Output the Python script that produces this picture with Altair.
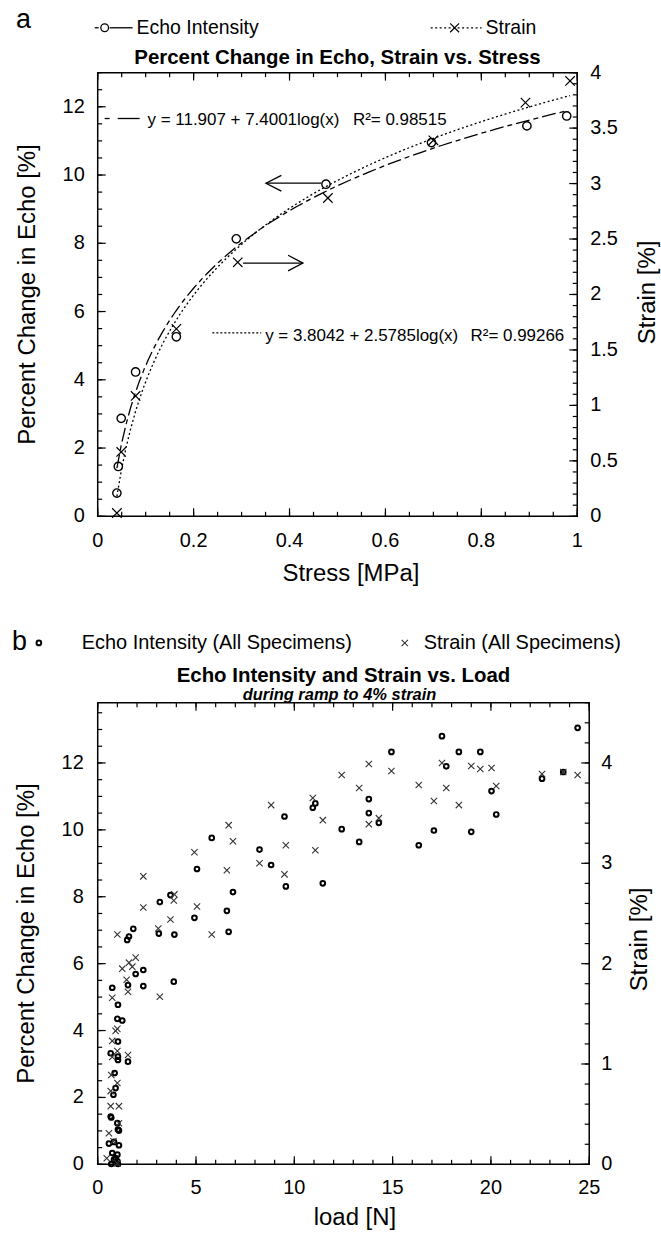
import altair as alt
import pandas as pd

FONT = "Liberation Sans"
PATH_X = "M-1,-1L1,1M-1,1L1,-1"

# ---------------- Panel a data (Stress [MPa]) ----------------
A_ECHO_STRESS = [0.040, 0.043, 0.049, 0.079, 0.164, 0.289, 0.476, 0.696, 0.895, 0.978]
A_ECHO = [0.68, 1.46, 2.87, 4.23, 5.26, 8.13, 9.73, 10.95, 11.44, 11.73]
A_STRAIN_STRESS = [0.040, 0.049, 0.079, 0.164, 0.292, 0.480, 0.700, 0.892, 0.985]
A_STRAIN = [0.03, 0.58, 1.085, 1.69, 2.29, 2.87, 3.39, 3.73, 3.925]

# arrows (annotation, left-axis units)
A_ARROW_X = [0.466, 0.351, 0.383, 0.351, 0.383, 0.303, 0.428, 0.397, 0.428, 0.397]
A_ARROW_Y = [9.76, 9.76, 9.99, 9.76, 9.53, 7.42, 7.42, 7.65, 7.42, 7.19]
A_ARROW_G = ["l1", "l1", "l2", "l2", "l2", "r1", "r1", "r2", "r2", "r2"]

A_X_LABELS = [0, 0.2, 0.4, 0.6, 0.8, 1.0]
A_X_MINOR = [round(i * 0.05, 2) for i in range(21)]
A_YL_LABELS = [0, 2, 4, 6, 8, 10, 12]
A_YL_MINOR = [i * 0.5 for i in range(27)]
A_YR_LABELS = [0, 0.5, 1, 1.5, 2, 2.5, 3, 3.5, 4]
A_YR_MINOR = [round(i * 0.1, 1) for i in range(41)]

# ---------------- Panel b data (load [N]) ----------------
B_ECHO_LOAD = [1.50, 1.59, 1.81, 3.16, 3.11, 3.70, 3.90, 4.92, 5.05, 5.80, 6.57, 6.66, 6.88,
               8.23, 8.82, 9.50, 9.57, 10.94, 11.07, 11.45, 12.41, 13.30,
               13.79, 13.79, 14.30, 14.94, 16.33, 17.10, 17.51, 17.73, 18.37, 19.00, 19.46,
               20.03, 20.27, 22.60, 23.68, 24.41,
               1.93, 2.32, 1.54, 2.32, 3.87, 0.74, 1.03, 1.00, 1.25, 1.03, 0.66, 1.03, 1.03,
               1.54, 0.86, 0.91, 0.80, 0.66, 0.69, 1.00, 1.03, 1.08, 0.57, 0.83, 1.08, 0.74,
               1.00, 0.83, 1.00, 0.69, 1.03, 0.91]
B_ECHO = [6.71, 6.81, 7.04, 7.84, 6.90, 8.05, 6.87, 7.37, 8.83, 9.76, 7.58, 6.95, 8.14,
          9.41, 8.95, 10.40, 8.31, 10.66, 10.79, 8.40, 10.02, 9.64,
          10.92, 10.50, 10.21, 12.33, 9.54, 9.98, 12.80, 11.90, 12.33, 9.94, 12.33,
          11.16, 10.46, 11.53, 11.73, 13.05,
          5.69, 5.81, 5.36, 5.33, 5.46, 5.28, 4.77, 4.35, 4.30, 3.67, 3.32, 3.22, 3.12,
          3.07, 2.73, 2.28, 2.08, 1.43, 1.40, 1.23, 1.04, 1.01, 0.62, 0.67, 0.57, 0.34,
          0.29, 0.14, 0.09, 0.01, 0.01, 0.19]
B_STRAIN_LOAD = [1.00, 2.32, 2.32, 3.08, 3.70, 3.90, 3.87, 4.92, 5.05, 5.80, 6.66, 6.88, 6.57,
                 8.23, 8.82, 9.57, 9.50, 10.94, 11.45, 11.07, 12.41, 13.30,
                 13.79, 13.79, 14.30, 14.94, 16.33, 17.10, 17.51, 17.73, 18.37, 19.00, 19.46,
                 20.03, 20.27, 22.60, 23.68, 24.41,
                 1.93, 1.59, 1.25, 1.76, 1.47, 1.54, 3.16, 0.74, 0.91, 1.00, 0.74, 1.00, 0.74,
                 1.54, 0.69, 1.00, 0.66, 0.66, 1.08, 1.08, 0.57, 0.80, 0.46, 1.00]
B_STRAIN = [2.29, 2.87, 2.56, 2.35, 2.44, 2.69, 2.63, 3.11, 2.57, 2.29, 3.38, 3.22, 2.93,
            3.00, 3.58, 3.18, 2.89, 3.65, 3.43, 3.13, 3.88, 3.75,
            3.99, 3.39, 3.45, 3.92, 3.78, 3.62, 4.00, 3.75, 3.58, 3.97, 3.94,
            3.95, 3.77, 3.89, 3.91, 3.88,
            2.06, 2.01, 1.95, 1.97, 1.84, 1.72, 1.67, 1.66, 1.33, 1.35, 1.23, 1.13, 1.07,
            1.09, 0.89, 0.81, 0.73, 0.58, 0.58, 0.41, 0.31, 0.23, 0.06, 0.01]

B_X_LABELS = [0, 5, 10, 15, 20, 25]
B_X_MINOR = list(range(26))
B_YL_LABELS = [0, 2, 4, 6, 8, 10, 12]
B_YL_MINOR = [i * 0.5 for i in range(28)]
B_YR_LABELS = [0, 1, 2, 3, 4]
B_YR_MINOR = [round(i * 0.2, 1) for i in range(24)]

# ---------------- text ----------------
A_TITLE = "Percent Change in Echo, Strain vs. Stress"
A_LEG1 = "Echo Intensity"
A_LEG2 = "Strain"
A_EQ1 = "y = 11.907 + 7.4001log(x)"
A_R1 = "R\u00b2= 0.98515"
A_EQ2 = "y = 3.8042 + 2.5785log(x)"
A_R2 = "R\u00b2= 0.99266"
A_XT = "Stress [MPa]"
YL_T = "Percent Change in Echo [%]"
YR_T = "Strain [%]"
B_TITLE = "Echo Intensity and Strain vs. Load"
B_SUB = "during ramp to 4% strain"
B_LEG1 = "Echo Intensity (All Specimens)"
B_LEG2 = "Strain (All Specimens)"
B_XT = "load [N]"

MAJ, MIN = 8, 4.5
LAB = 20


def text_layer(txt, x, y, size, align="left", baseline="middle", weight="normal",
               style="normal", angle=0):
    kw = dict(align=align, baseline=baseline, fontSize=size, font=FONT,
              fontWeight=weight, fontStyle=style, color="black")
    if angle:
        kw["angle"] = angle
    return alt.Chart(pd.DataFrame({"t": [txt]})).mark_text(**kw).encode(
        x=alt.value(x), y=alt.value(y), text="t:N")


def pix_rule(x1, x2, y1, y2, dash=None, width=1.3, opacity=1.0):
    kw = dict(color="black", strokeWidth=width, strokeOpacity=opacity)
    if dash:
        kw["strokeDash"] = dash
    return alt.Chart(pd.DataFrame({"d": [0]})).mark_rule(**kw).encode(
        x=alt.value(x1), x2=alt.value(x2), y=alt.value(y1), y2=alt.value(y2))


def pix_point(x, y, shape, size, sw, color="black"):
    return alt.Chart(pd.DataFrame({"d": [0]})).mark_point(
        shape=shape, size=size, strokeWidth=sw, color=color, filled=False, opacity=1
    ).encode(x=alt.value(x), y=alt.value(y))


def ticks(values, side, length, w, h, field, scale):
    df = pd.DataFrame({field: values})
    base = alt.Chart(df).mark_rule(color="black", strokeWidth=1.2)
    if side == "bottom":
        return base.encode(x=alt.X(f"{field}:Q", scale=scale, axis=None),
                           y=alt.value(h), y2=alt.value(h - length))
    if side == "top":
        return base.encode(x=alt.X(f"{field}:Q", scale=scale, axis=None),
                           y=alt.value(0), y2=alt.value(length))
    if side == "left":
        return base.encode(y=alt.Y(f"{field}:Q", scale=scale, axis=None),
                           x=alt.value(0), x2=alt.value(length))
    return base.encode(y=alt.Y(f"{field}:Q", scale=scale, axis=None),
                       x=alt.value(w), x2=alt.value(w - length))


def tick_labels(values, side, offset, w, h, field, scale):
    df = pd.DataFrame({field: values})
    if side == "bottom":
        return alt.Chart(df).mark_text(
            align="center", baseline="middle", fontSize=LAB, font=FONT, color="black"
        ).encode(x=alt.X(f"{field}:Q", scale=scale, axis=None),
                 y=alt.value(h + offset), text=alt.Text(f"{field}:Q", format="~g"))
    if side == "left":
        return alt.Chart(df).mark_text(
            align="right", baseline="middle", fontSize=LAB, font=FONT, color="black"
        ).encode(y=alt.Y(f"{field}:Q", scale=scale, axis=None),
                 x=alt.value(-offset), text=alt.Text(f"{field}:Q", format="~g"))
    return alt.Chart(df).mark_text(
        align="left", baseline="middle", fontSize=LAB, font=FONT, color="black"
    ).encode(y=alt.Y(f"{field}:Q", scale=scale, axis=None),
             x=alt.value(w + offset), text=alt.Text(f"{field}:Q", format="~g"))


# ======================= Panel a =======================
aw, ah = 481, 445
xa = alt.Scale(domain=[0, 1], nice=False, zero=False)
yal = alt.Scale(domain=[0, 13], nice=False, zero=False)
yar = alt.Scale(domain=[0, 4], nice=False, zero=False)

a_echo_df = pd.DataFrame({"stress": A_ECHO_STRESS, "echo": A_ECHO})
a_strain_df = pd.DataFrame({"stress": A_STRAIN_STRESS, "strain": A_STRAIN})
a_arrow_df = pd.DataFrame({"stress": A_ARROW_X, "echo": A_ARROW_Y, "g": A_ARROW_G,
                           "o": list(range(len(A_ARROW_X)))})

a_echo_fit = alt.Chart(a_echo_df).transform_regression(
    on="stress", regression="echo", method="log", extent=[0.04, 0.978]
).mark_line(color="black", strokeWidth=1.3, strokeDash=[14, 4, 5, 4]).encode(
    x=alt.X("stress:Q", scale=xa, axis=None),
    y=alt.Y("echo:Q", scale=yal, axis=None))

a_echo_pts = alt.Chart(a_echo_df).mark_point(
    shape="circle", size=70, strokeWidth=1.4, color="black", filled=False, opacity=1
).encode(
    x=alt.X("stress:Q", scale=xa, axis=None),
    y=alt.Y("echo:Q", scale=yal, axis=None))

a_arrows = alt.Chart(a_arrow_df).mark_line(color="black", strokeWidth=1.3).encode(
    x=alt.X("stress:Q", scale=xa, axis=None),
    y=alt.Y("echo:Q", scale=yal, axis=None),
    detail="g:N", order="o:Q")

a_left = alt.layer(
    a_echo_fit, a_echo_pts, a_arrows,
    ticks(A_X_LABELS, "bottom", MAJ, aw, ah, "stress", xa),
    ticks(A_X_MINOR, "bottom", MIN, aw, ah, "stress", xa),
    ticks(A_X_LABELS, "top", MAJ, aw, ah, "stress", xa),
    ticks(A_X_MINOR, "top", MIN, aw, ah, "stress", xa),
    ticks(A_YL_LABELS, "left", MAJ, aw, ah, "echo", yal),
    ticks(A_YL_MINOR, "left", MIN, aw, ah, "echo", yal),
    tick_labels(A_X_LABELS, "bottom", 25, aw, ah, "stress", xa),
    tick_labels(A_YL_LABELS, "left", 13, aw, ah, "echo", yal),
    # panel letter, legend, title
    text_layer("a", -82, -45, 27, baseline="alphabetic"),
    pix_rule(-3, 1, -45, -45),
    pix_point(7, -45, "circle", 60, 1.3),
    pix_rule(12, 35, -45, -45),
    text_layer(A_LEG1, 39, -45, 19.5),
    pix_rule(334, 385, -45, -45, dash=[2, 2.5]),
    pix_point(358, -45, PATH_X, 80, 1.2),
    text_layer(A_LEG2, 389, -45, 19.5),
    text_layer(A_TITLE, aw / 2, -15, 20.5, align="center", weight="bold"),
    # equations
    pix_rule(7, 12, 46, 46),
    pix_rule(20, 42, 46, 46),
    text_layer(A_EQ1, 50, 48, 17),
    text_layer(A_R1, 256, 48, 17),
    pix_rule(115, 164, 261, 261, dash=[2, 2]),
    text_layer(A_EQ2, 168, 264, 17),
    text_layer(A_R2, 374, 264, 17),
    # axis titles
    text_layer(A_XT, 254, ah + 58, 24, align="center"),
    text_layer(YL_T, -70, ah / 2, 24, align="center", angle=270),
    text_layer(YR_T, aw + 71, ah / 2 - 2, 24, align="center", angle=270),
    # layout pins
    pix_rule(-96, -96, -70, ah + 100, opacity=0.0),
)

a_strain_fit = alt.Chart(a_strain_df).transform_regression(
    on="stress", regression="strain", method="log", extent=[0.04, 0.985]
).mark_line(color="black", strokeWidth=1.3, strokeDash=[2, 2.5]).encode(
    x=alt.X("stress:Q", scale=xa, axis=None),
    y=alt.Y("strain:Q", scale=yar, axis=None))

a_strain_pts = alt.Chart(a_strain_df).mark_point(
    shape=PATH_X, size=90, strokeWidth=1.2, color="black", filled=False, opacity=1
).encode(
    x=alt.X("stress:Q", scale=xa, axis=None),
    y=alt.Y("strain:Q", scale=yar, axis=None))

a_right = alt.layer(
    a_strain_fit, a_strain_pts,
    ticks(A_YR_LABELS, "right", MAJ, aw, ah, "strain", yar),
    ticks(A_YR_MINOR, "right", MIN, aw, ah, "strain", yar),
    tick_labels(A_YR_LABELS, "right", 13, aw, ah, "strain", yar),
)

panel_a = alt.layer(a_left, a_right).resolve_scale(y="independent").properties(
    width=aw, height=ah)

# ======================= Panel b =======================
bw, bh = 493, 463
xb = alt.Scale(domain=[0, 25], nice=False, zero=False)
ybl = alt.Scale(domain=[0, 13.8], nice=False, zero=False)
ybr = alt.Scale(domain=[0, 4.6], nice=False, zero=False)

b_echo_df = pd.DataFrame({"load": B_ECHO_LOAD, "echo": B_ECHO})
b_strain_df = pd.DataFrame({"load": B_STRAIN_LOAD, "strain": B_STRAIN})

b_echo_pts = alt.Chart(b_echo_df).mark_point(
    shape="circle", size=22, strokeWidth=2.0, color="black", filled=False, opacity=1
).encode(
    x=alt.X("load:Q", scale=xb, axis=None),
    y=alt.Y("echo:Q", scale=ybl, axis=None))

b_left = alt.layer(
    b_echo_pts,
    ticks(B_X_LABELS, "bottom", MAJ, bw, bh, "load", xb),
    ticks(B_X_MINOR, "bottom", MIN, bw, bh, "load", xb),
    ticks(B_X_LABELS, "top", MAJ, bw, bh, "load", xb),
    ticks(B_X_MINOR, "top", MIN, bw, bh, "load", xb),
    ticks(B_YL_LABELS, "left", MAJ, bw, bh, "echo", ybl),
    ticks(B_YL_MINOR, "left", MIN, bw, bh, "echo", ybl),
    tick_labels(B_X_LABELS, "bottom", 24, bw, bh, "load", xb),
    tick_labels(B_YL_LABELS, "left", 14, bw, bh, "echo", ybl),
    text_layer("b", -86, -53, 27, baseline="alphabetic"),
    pix_point(-59, -60, "circle", 22, 2.0),
    text_layer(B_LEG1, -16, -60, 20),
    pix_point(308, -60, PATH_X, 40, 1.1, color="#333333"),
    text_layer(B_LEG2, 327, -60, 20),
    text_layer(B_TITLE, bw / 2, -27, 20.5, align="center", weight="bold"),
    text_layer(B_SUB, bw / 2 - 4, -8, 16.5, align="center", weight="bold", style="italic"),
    text_layer(B_XT, 258, bh + 54, 24, align="center"),
    text_layer(YL_T, -71, bh / 2, 24, align="center", angle=270),
    text_layer(YR_T, bw + 51, bh / 2 + 6, 24, align="center", angle=270),
    pix_rule(-97, -97, -85, bh, opacity=0.0),
)

b_strain_pts = alt.Chart(b_strain_df).mark_point(
    shape=PATH_X, size=40, strokeWidth=1.1, color="#333333", filled=False, opacity=1
).encode(
    x=alt.X("load:Q", scale=xb, axis=None),
    y=alt.Y("strain:Q", scale=ybr, axis=None))

b_right = alt.layer(
    b_strain_pts,
    ticks(B_YR_LABELS, "right", MAJ, bw, bh, "strain", ybr),
    ticks(B_YR_MINOR, "right", MIN, bw, bh, "strain", ybr),
    tick_labels(B_YR_LABELS, "right", 12, bw, bh, "strain", ybr),
)

panel_b = alt.layer(b_left, b_right).resolve_scale(y="independent").properties(
    width=bw, height=bh)

chart = alt.vconcat(panel_a, panel_b, spacing=0).properties(padding=0).configure(
    font=FONT
).configure_view(stroke="black", strokeWidth=1.5)

chart.save("out.html", embed_options={"renderer": "svg", "actions": False})
